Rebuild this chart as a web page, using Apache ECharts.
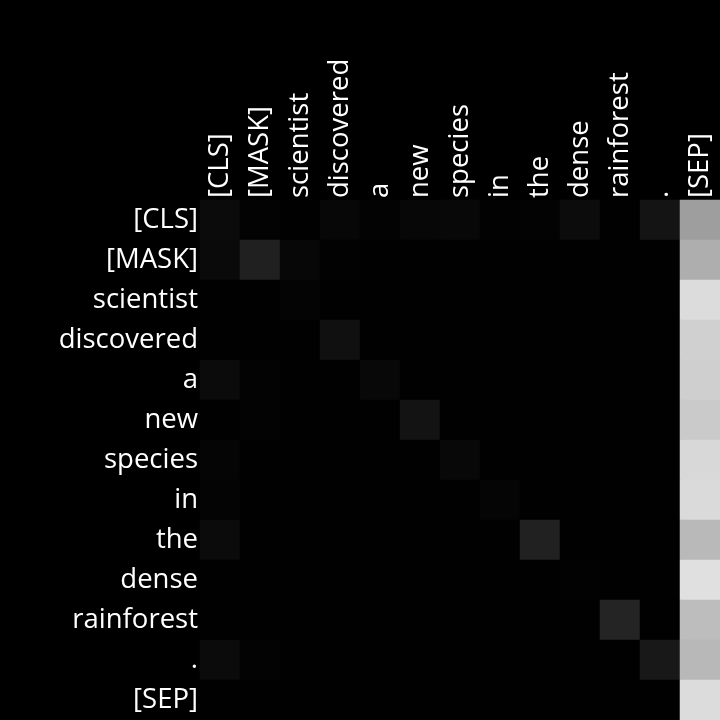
<!DOCTYPE html>
<html><head><meta charset="utf-8">
<script src="https://cdn.jsdelivr.net/npm/echarts@6/dist/echarts.min.js"></script>
<style>html,body{margin:0;padding:0;background:#000;}#c{width:720px;height:720px;}</style>
</head><body><div id="c"></div>
<script>
const tokens = ["[CLS]","[MASK]","scientist","discovered","a","new","species","in","the","dense","rainforest",".","[SEP]"];
// attention weights (rows = query tokens, cols = key tokens), read as gray level / 255
const rowCLS        = [11,3,1,7,3,7,8,2,3,12,1,20,158];
const rowMASK       = [10,32,7,2,1,1,1,1,1,1,1,1,174];
const rowScientist  = [1,1,4,1,1,1,1,1,1,1,1,1,220];
const rowDiscovered = [1,1,1,16,1,1,1,1,1,1,1,1,208];
const rowA          = [11,3,1,1,8,1,1,1,1,1,1,1,207];
const rowNew        = [1,3,1,1,1,19,1,1,1,1,1,1,202];
const rowSpecies    = [5,1,1,1,1,1,8,1,1,1,1,1,216];
const rowIn         = [4,1,1,1,1,1,1,5,1,1,1,1,218];
const rowThe        = [11,1,1,1,1,1,1,1,33,1,1,1,185];
const rowDense      = [1,1,1,1,1,1,1,1,1,2,1,1,224];
const rowRainforest = [1,1,1,1,1,1,1,1,1,1,36,1,189];
const rowDot        = [11,3,1,1,1,1,1,1,1,1,1,24,184];
const rowSEP        = [1,1,1,1,1,1,1,1,1,1,1,1,220];
const rows = [rowCLS,rowMASK,rowScientist,rowDiscovered,rowA,rowNew,rowSpecies,rowIn,rowThe,rowDense,rowRainforest,rowDot,rowSEP];

const data = [];
rows.forEach((r, i) => r.forEach((v, j) => data.push([j, i, v / 255])));

const chart = echarts.init(document.getElementById('c'), null, {renderer: 'canvas'});
const font = '"Open Sans", "Noto Sans", sans-serif';
chart.setOption({
  backgroundColor: '#000',
  animation: false,
  grid: {left: 200, top: 200, width: 520, height: 520, containLabel: false},
  xAxis: {
    type: 'category', data: tokens, position: 'top',
    axisLine: {show: false}, axisTick: {show: false}, splitLine: {show: false},
    axisLabel: {rotate: -90, color: '#fff', fontSize: 27.5, fontFamily: font, margin: 2, interval: 0, padding: [4, 0, 0, 0]}
  },
  yAxis: {
    type: 'category', data: tokens, inverse: true,
    axisLine: {show: false}, axisTick: {show: false}, splitLine: {show: false},
    axisLabel: {color: '#fff', fontSize: 27.5, fontFamily: font, margin: 2, interval: 0, padding: [4, 0, 0, 0]}
  },
  visualMap: {show: false, min: 0, max: 1, dimension: 2, inRange: {color: ['#000000', '#ffffff']}},
  series: [{type: 'heatmap', data: data, itemStyle: {borderWidth: 0}, emphasis: {disabled: true}}]
});
</script></body></html>
